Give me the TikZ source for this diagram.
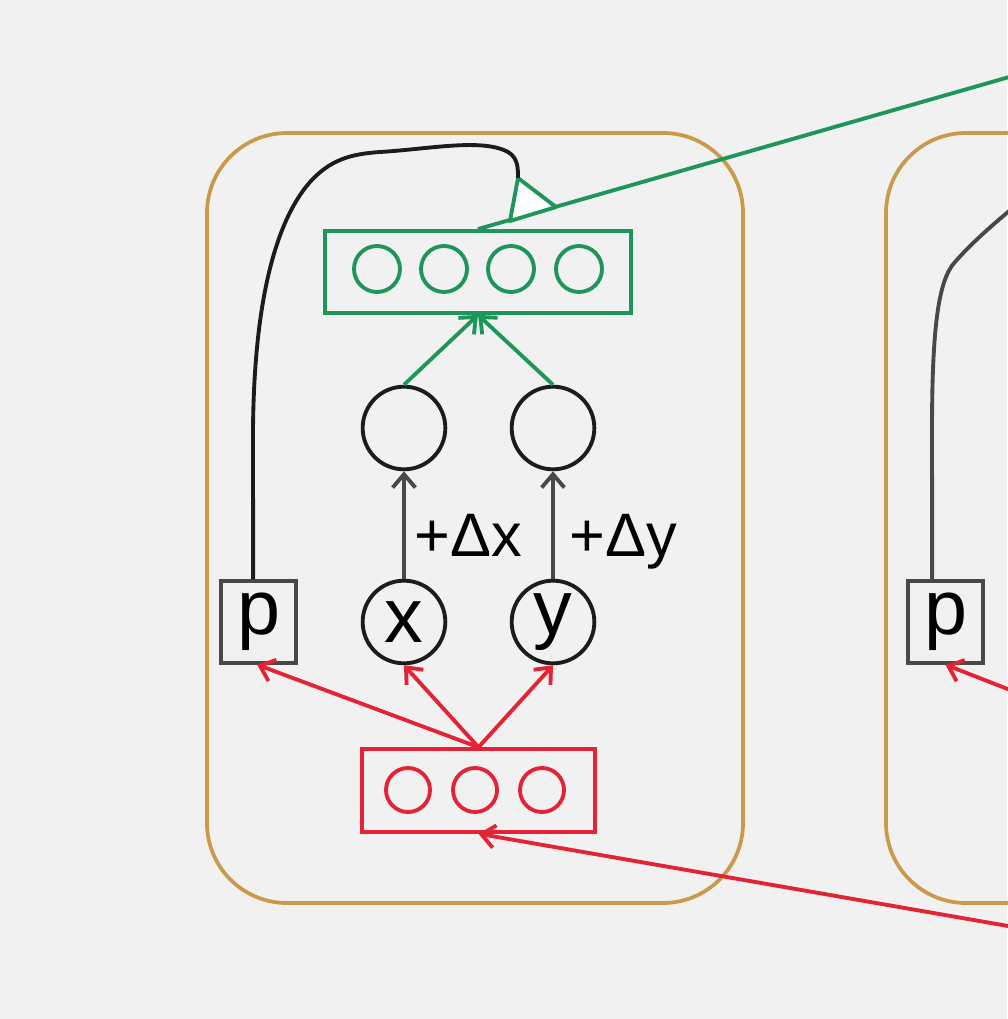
\documentclass[tikz,border=0pt]{standalone}
\usepackage{fontspec}
\setmainfont{Liberation Sans}
\usepackage{tikz}
\usetikzlibrary{arrows.meta,positioning}

\definecolor{bgcol}{RGB}{241,241,241}
\definecolor{panelcol}{RGB}{201,154,76}
\definecolor{outgreen}{RGB}{30,150,90}
\definecolor{inred}{RGB}{227,36,55}
\definecolor{wiregray}{RGB}{72,72,72}
\definecolor{unitblack}{RGB}{28,28,28}

\begin{document}
\begin{tikzpicture}[
    x=0.75pt, y=-0.75pt,
    panel/.style={draw=panelcol, line width=2.8pt, rounded corners=60pt},
    neuron/.style={circle, draw=unitblack, line width=2.9pt, minimum size=62pt, inner sep=0pt, font=\fontsize{58}{60}\selectfont},
    pbox/.style={draw=wiregray, line width=2.6pt, minimum width=56pt, minimum height=61.5pt, inner sep=0pt, font=\fontsize{58}{60}\selectfont},
    outvec/.style={draw=outgreen, line width=2.9pt, minimum width=229.5pt, minimum height=61.5pt},
    invec/.style={draw=inred, line width=2.9pt, minimum width=175pt, minimum height=62pt},
    outunit/.style={circle, draw=outgreen, line width=2.9pt, minimum size=34.5pt, inner sep=0pt},
    inunit/.style={circle, draw=inred, line width=2.9pt, minimum size=33pt, inner sep=0pt},
    tip/.style={-{Straight Barb[length=10pt, width=17pt]}},
    redarrow/.style={tip, draw=inred, line width=2.9pt},
    greenarrow/.style={tip, draw=outgreen, line width=2.9pt},
    grayarrow/.style={tip, draw=wiregray, line width=2.9pt},
    delta/.style={font=\fontsize{46}{50}\selectfont, inner sep=0pt, anchor=base west},
]
    % background and fixed size
    \fill[bgcol] (0,0) rectangle (1007,1019);
    \useasboundingbox (0,0) rectangle (1007,1019);

    % the two cells
    \draw[panel] (207,133) rectangle (743,903);
    \draw[panel] (886,133) rectangle (1430,903);

    % output vector
    \node[outvec] (gbox) at (478,272) {};
    \foreach \i/\xx in {1/377,2/444,3/511,4/579}
        \node[outunit] (g\i) at (\xx,269) {};

    % hidden units
    \node[neuron] (h1) at (404,428) {};
    \node[neuron] (h2) at (553,428) {};

    % inputs
    \node[neuron] (x) at (404,622) {x};
    \node[neuron] (y) at (553,622) {y};
    \node[pbox] (p) at (258.5,622) {p};

    % input vector
    \node[invec] (rbox) at (478.5,790.5) {};
    \foreach \i/\xx in {1/408,2/475,3/542}
        \node[inunit] (r\i) at (\xx,790) {};

    % next cell
    \node[pbox] (p2) at (945.5,622) {p};

    % outside ends
    \coordinate (gout) at (1100,51);
    \coordinate (rin) at (1100,942);
    \coordinate (rin2) at (1100,725);
    \coordinate (wire2) at (1060,170);
    \coordinate (gate) at (518,178);

    % connections
    \draw[redarrow] (rbox.north) -- ([xshift=-1pt]p.south);
    \draw[redarrow] (rbox.north) -- (x.south);
    \draw[redarrow] (rbox.north) -- (y.south);
    \draw[grayarrow] (x) -- (h1);
    \draw[grayarrow] (y) -- (h2);
    \node[delta] (dx) at (414,556) {+Δx};
    \node[delta] (dy) at (569,556) {+Δy};
    \draw[greenarrow] (h1.north) -- (gbox.south);
    \draw[greenarrow] (h2.north) -- (gbox.south);
    \draw[redarrow] (rin) -- (rbox.south);
    \draw[redarrow] (rin2) -- (p2.south);

    % gate on the outgoing line
    \draw[outgreen, line width=2.9pt] (gbox.north) -- (gout);
    \draw[outgreen, line width=2.9pt, fill=white, line join=round] (gate) -- (510,221) -- (556,207) -- cycle;

    % recurrent wires
    \draw[unitblack, line width=2.9pt] ([xshift=-4pt]p.north) -- (253,450)
        .. controls (252,330) and (268,230) .. (310,182)
        .. controls (330,160) and (350,154) .. (380,152)
        .. controls (430,149) and (482,138) .. (508,152)
        .. controls (518,158) and (518,168) .. (gate);
    \draw[wiregray, line width=2.9pt] ([xshift=-10pt]p2.north) -- (932,430)
        .. controls (932,330) and (938,280) .. (955,262)
        .. controls (970,245) and (990,225) .. (wire2);
\end{tikzpicture}
\end{document}
